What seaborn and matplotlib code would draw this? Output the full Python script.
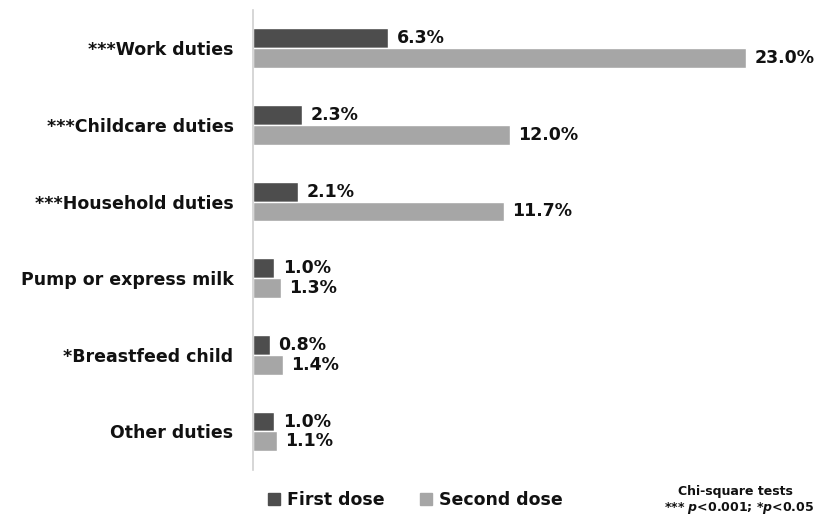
import pandas as pd
import matplotlib.pyplot as plt
import seaborn as sns
from matplotlib.patches import Patch

# values (% of respondents)
categories = ["***Work duties", "***Childcare duties", "***Household duties",
              "Pump or express milk", "*Breastfeed child", "Other duties"]
first_dose = [6.3, 2.3, 2.1, 1.0, 0.8, 1.0]
second_dose = [23.0, 12.0, 11.7, 1.3, 1.4, 1.1]
doses = ["First dose", "Second dose"]

df = pd.DataFrame({
    "Category": categories * 2,
    "Percent": first_dose + second_dose,
    "Dose": [doses[0]] * len(categories) + [doses[1]] * len(categories),
})

sns.set_style("white")
plt.rcParams["font.family"] = ["DejaVu Sans"]
plt.rcParams["font.weight"] = "bold"
plt.rcParams["text.color"] = "#111111"

fig = plt.figure(figsize=(8.28, 5.18), dpi=100)
ax = fig.add_axes([0.3056, 0.093, 0.673, 0.888])

sns.barplot(data=df, y="Category", x="Percent", hue="Dose", order=categories,
            hue_order=doses, palette=["#4d4d4d", "#a6a6a6"], width=0.52,
            orient="h", ax=ax, legend=False)

for cont in ax.containers:
    ax.bar_label(cont, labels=[f"{v:.1f}%" for v in cont.datavalues],
                 padding=6, fontsize=12.5, fontweight="bold", color="#111111")

ax.set_xlim(0, 26)
ax.set_ylim(5.5, -0.5)
ax.set_xlabel("")
ax.set_ylabel("")
ax.set_xticks([])
ax.tick_params(axis="y", length=0, pad=14, labelsize=12.5, labelcolor="#111111")
for lbl in ax.get_yticklabels():
    lbl.set_fontweight("bold")
for s in ["top", "right", "bottom"]:
    ax.spines[s].set_visible(False)
ax.spines["left"].set_color("#d0d0d0")
ax.spines["left"].set_linewidth(1.2)

# legend at the bottom
handles = [Patch(color="#4d4d4d"), Patch(color="#a6a6a6")]
fig.legend(handles, doses, loc="center left", bbox_to_anchor=(0.305, 0.035), ncol=2,
           frameon=False, handlelength=0.7, handleheight=0.7, handletextpad=0.4,
           columnspacing=2.0, prop={"weight": "bold", "size": 12.5})

fig.text(0.888, 0.052, "Chi-square tests", ha="center", va="center",
         fontsize=9, fontweight="bold")
fig.text(0.893, 0.019, r"*** $\mathbfit{p}$<0.001; *$\mathbfit{p}$<0.05",
         ha="center", va="center", fontsize=9, fontweight="bold")

fig.savefig("out.png", dpi=100)
